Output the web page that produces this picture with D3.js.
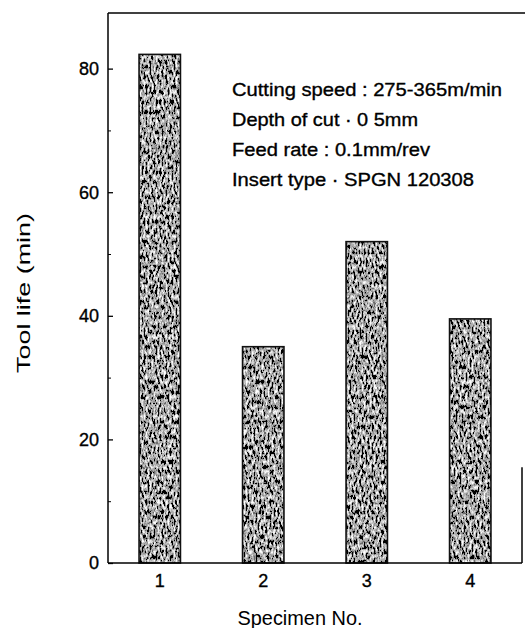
<!DOCTYPE html>
<html>
<head>
<meta charset="utf-8">
<script src="https://cdn.jsdelivr.net/npm/d3@7"></script>
<style>
  body { margin: 0; background: #fff; }
  svg { display: block; font-family: "Liberation Sans", Arial, sans-serif; }
</style>
</head>
<body>
<div id="chart"></div>
<script>
// data
const specimens = [1, 2, 3, 4];
const toolLife = [82.3, 35.0, 52.0, 39.5];
const yTicks = [0, 20, 40, 60, 80];
const yMinor = [10, 30, 50, 70];
const notes = [
  "Cutting speed : 275-365m/min",
  "Depth of cut \u00b7 0 5mm",
  "Feed rate : 0.1mm/rev",
  "Insert type \u00b7 SPGN 120308"
];

const W = 525, H = 628;
const plotLeft = 108, plotRight = 522, plotTop = 13, plotBottom = 563;

const svg = d3.select("#chart").append("svg")
  .attr("width", W).attr("height", H);

svg.append("rect").attr("width", W).attr("height", H).attr("fill", "#fff");

// grainy scan-like fill for the bars
const defs = svg.append("defs");
const f = defs.append("filter").attr("id", "grain")
  .attr("x", 0).attr("y", 0).attr("width", 1).attr("height", 1)
  .attr("filterUnits", "objectBoundingBox");
f.append("feTurbulence").attr("type", "fractalNoise")
  .attr("baseFrequency", "0.5 0.2").attr("numOctaves", 3).attr("seed", 7)
  .attr("result", "noise");
f.append("feColorMatrix").attr("type", "matrix")
  .attr("values", "1 0 0 0 0  1 0 0 0 0  1 0 0 0 0  0 0 0 0 1")
  .attr("result", "gray");
const ct = f.append("feComponentTransfer").attr("result", "bw");
["feFuncR", "feFuncG", "feFuncB"].forEach(fn => {
  ct.append(fn).attr("type", "discrete")
    .attr("tableValues", "0 0 0 0 0 0 0 0 0.15 0.3 0.42 0.55 0.68 0.82 0.95 1 1 1 1 1");
});
f.append("feComposite").attr("in", "bw").attr("in2", "SourceGraphic").attr("operator", "in");

const x = d3.scaleLinear().domain([0.5, 4.5]).range([plotLeft, plotRight]);
const y = d3.scaleLinear().domain([0, 89]).range([plotBottom, plotTop]);
const bw = x(1.2) - x(0.8);

// bars
const bars = svg.append("g");
bars.selectAll("rect.fill")
  .data(specimens)
  .join("rect")
  .attr("class", "fill")
  .attr("x", d => x(d) - bw / 2)
  .attr("y", (d, i) => y(toolLife[i]))
  .attr("width", bw)
  .attr("height", (d, i) => y(0) - y(toolLife[i]))
  .attr("fill", "#000")
  .attr("filter", "url(#grain)");
bars.selectAll("rect.edge")
  .data(specimens)
  .join("rect")
  .attr("class", "edge")
  .attr("x", d => x(d) - bw / 2)
  .attr("y", (d, i) => y(toolLife[i]))
  .attr("width", bw)
  .attr("height", (d, i) => y(0) - y(toolLife[i]))
  .attr("fill", "none")
  .attr("stroke", "#111")
  .attr("stroke-width", 1.6);

// frame (right side only survives near the bottom in the scan)
const frame = svg.append("g").attr("stroke", "#000").attr("stroke-width", 1.5);
frame.append("line").attr("x1", plotLeft).attr("x2", plotLeft).attr("y1", plotTop).attr("y2", plotBottom);
frame.append("line").attr("x1", plotLeft).attr("x2", plotRight).attr("y1", plotBottom).attr("y2", plotBottom);
frame.append("line").attr("x1", plotLeft).attr("x2", W).attr("y1", plotTop).attr("y2", plotTop);
frame.append("line").attr("x1", plotRight).attr("x2", plotRight).attr("y1", y(15.5)).attr("y2", plotBottom);

// y axis, ticks pointing inward
const yAxis = d3.axisRight(y).tickValues(yTicks).tickSize(5).tickFormat("");
svg.append("g").attr("transform", `translate(${plotLeft},0)`).call(yAxis)
  .call(g => g.select(".domain").remove())
  .call(g => g.selectAll("line").attr("stroke-width", 1.3));
const yAxisMinor = d3.axisRight(y).tickValues(yMinor).tickSize(3).tickFormat("");
svg.append("g").attr("transform", `translate(${plotLeft},0)`).call(yAxisMinor)
  .call(g => g.select(".domain").remove());

const labels = svg.append("g").attr("stroke", "#000").attr("stroke-width", 0.35);

labels.append("g").selectAll("text")
  .data(yTicks)
  .join("text")
  .attr("x", 99)
  .attr("y", d => y(d))
  .attr("dy", "0.36em")
  .attr("text-anchor", "end")
  .attr("font-size", 18)
  .text(d => d);

// x tick labels
labels.append("g").selectAll("text")
  .data(specimens)
  .join("text")
  .attr("x", d => x(d))
  .attr("y", 587)
  .attr("text-anchor", "middle")
  .attr("font-size", 18)
  .text(d => d);

// axis titles
svg.append("text")
  .attr("x", 300).attr("y", 625)
  .attr("text-anchor", "middle")
  .attr("font-size", 20)
  .attr("textLength", 125).attr("lengthAdjust", "spacingAndGlyphs")
  .text("Specimen  No.");

svg.append("text")
  .attr("transform", "translate(30,293) rotate(-90)")
  .attr("text-anchor", "middle")
  .attr("font-size", 19)
  .attr("textLength", 160).attr("lengthAdjust", "spacingAndGlyphs")
  .text("Tool life  (min)");

// test conditions
const noteWidths = [270, 186, 198, 242];
labels.append("g").selectAll("text")
  .data(notes)
  .join("text")
  .attr("x", 232)
  .attr("y", (d, i) => 96 + i * 30)
  .attr("font-size", 18.5)
  .attr("textLength", (d, i) => noteWidths[i])
  .attr("lengthAdjust", "spacingAndGlyphs")
  .text(d => d);
</script>
</body>
</html>
